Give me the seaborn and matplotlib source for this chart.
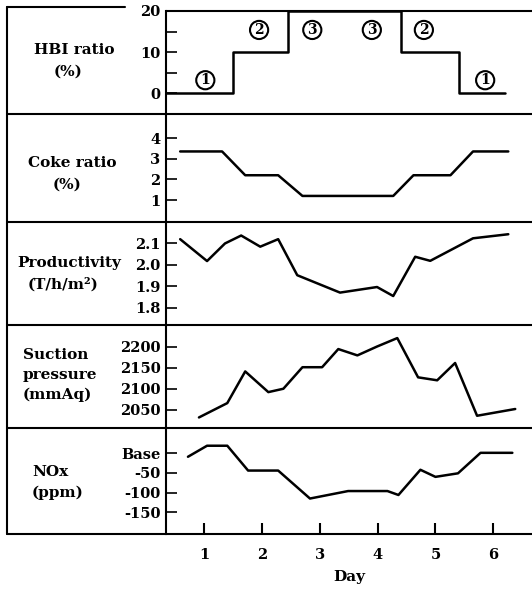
import numpy as np
import pandas as pd
import matplotlib
matplotlib.use("Agg")
import matplotlib.pyplot as plt
from matplotlib.lines import Line2D
import seaborn as sns

# Data (x in days)
hbi_day = [0.34, 1.5, 2.45, 4.4, 5.4, 6.2]
hbi_val = [0, 10, 20, 10, 0, 0]
hbi_mark_day = [1.02, 1.95, 2.87, 3.9, 4.8, 5.86]
hbi_mark_val = [3.2, 15.4, 15.4, 15.4, 15.4, 3.2]
hbi_mark_txt = ["1", "2", "3", "3", "2", "1"]

coke_day = [0.585, 1.31, 1.71, 2.28, 2.70, 4.27, 4.62, 5.26, 5.65, 6.26]
coke_val = [3.35, 3.35, 2.2, 2.2, 1.2, 1.2, 2.2, 2.2, 3.35, 3.35]

prod_day = [0.585, 1.05, 1.36, 1.64, 1.97, 2.28, 2.61, 3.35, 3.99, 4.27,
            4.65, 4.91, 5.65, 6.26]
prod_val = [2.12, 2.018, 2.10, 2.137, 2.085, 2.12, 1.952, 1.871, 1.897,
            1.855, 2.038, 2.019, 2.124, 2.143]

suc_day = [0.91, 1.40, 1.71, 2.11, 2.37, 2.70, 3.04, 3.32, 3.65, 3.99, 4.34,
           4.70, 5.03, 5.34, 5.72, 6.38]
suc_val = [2032, 2066, 2141, 2092, 2100, 2151, 2151, 2194, 2179, 2200, 2220,
           2127, 2120, 2161, 2036, 2052]

nox_day = [0.72, 1.05, 1.40, 1.76, 2.28, 2.83, 3.49, 4.17, 4.36, 4.74, 5.00,
           5.39, 5.78, 6.33]
nox_val = [-9, 19, 19, -44, -44, -115, -96, -96, -106, -42, -60, -51, 1, 1]

day_ticks = [1, 2, 3, 4, 5, 6]

W, H = 532, 590


def fx(px):
    return px / W


def fy(py):
    return 1 - py / H


sns.set_theme(style="white")
plt.rcParams["font.family"] = ["DejaVu Serif", "DejaVu Sans"]
plt.rcParams["font.weight"] = "bold"
plt.rcParams["text.color"] = "black"
FS = 10.5

fig = plt.figure(figsize=(W / 100, H / 100), dpi=100)

bounds = [(11, 114), (114, 222), (222, 325), (325, 428), (428, 534)]
axes = []
for top, bot in bounds:
    ax = fig.add_axes([fx(166), fy(bot), fx(532) - fx(166), (bot - top) / H])
    ax.set_facecolor("none")
    for s in ["top", "right", "bottom"]:
        ax.spines[s].set_visible(False)
    ax.spines["left"].set_color("black")
    ax.spines["left"].set_linewidth(1.5)
    ax.set_xlim(0.34, 6.67)
    ax.tick_params(axis="y", direction="in", length=8, width=1.2,
                   labelsize=FS, pad=4, left=True, colors="black")
    ax.tick_params(axis="x", bottom=False, labelbottom=False)
    axes.append(ax)

lw = 1.8
ax1, ax2, ax3, ax4, ax5 = axes

# HBI ratio
sns.lineplot(x=hbi_day, y=hbi_val, ax=ax1, color="black", lw=lw,
             drawstyle="steps-post", estimator=None, sort=False)
ax1.set_ylim(-5, 20)
ax1.set_yticks([0, 5, 10, 15, 20])
ax1.set_yticklabels(["0", "", "10", "", "20"])
for d, v, t in zip(hbi_mark_day, hbi_mark_val, hbi_mark_txt):
    ax1.text(d, v, t, ha="center", va="center", fontsize=10, fontweight="bold",
             color="black",
             bbox=dict(boxstyle="circle,pad=0.15", fc="white", ec="black", lw=1.5))

# Coke ratio
sns.lineplot(x=coke_day, y=coke_val, ax=ax2, color="black", lw=lw,
             estimator=None, sort=False)
ax2.set_ylim(-0.06, 5.16)
ax2.set_yticks([1, 2, 3, 4])

# Productivity
sns.lineplot(x=prod_day, y=prod_val, ax=ax3, color="black", lw=lw,
             estimator=None, sort=False)
ax3.set_ylim(1.72, 2.2)
ax3.set_yticks([1.8, 1.9, 2.0, 2.1])
ax3.set_yticklabels(["1.8", "1.9", "2.0", "2.1"])

# Suction pressure
sns.lineplot(x=suc_day, y=suc_val, ax=ax4, color="black", lw=lw,
             estimator=None, sort=False)
ax4.set_ylim(2007, 2251)
ax4.set_yticks([2050, 2100, 2150, 2200])

# NOx
sns.lineplot(x=nox_day, y=nox_val, ax=ax5, color="black", lw=lw,
             estimator=None, sort=False)
ax5.set_ylim(-205, 64)
ax5.set_yticks([0, -50, -100, -150])
ax5.set_yticklabels(["Base", "-50", "-100", "-150"])
ax5.set_xticks(day_ticks)
ax5.tick_params(axis="x", bottom=True, labelbottom=True, direction="in",
                length=8, width=1.5, labelsize=FS, pad=10, colors="black")

for ax in axes:
    ax.set_ylabel("")
    ax.set_xlabel("")

# Frame lines across the whole figure
def hline(py, x0, x1):
    fig.add_artist(Line2D([fx(x0), fx(x1)], [fy(py), fy(py)], color="black",
                          lw=1.5, transform=fig.transFigure))

hline(7, 7, 125)
hline(11, 166, 532)
for py in [114, 222, 325, 428, 534]:
    hline(py, 7, 532)
fig.add_artist(Line2D([fx(7), fx(7)], [fy(7), fy(534)], color="black", lw=1.5,
                      transform=fig.transFigure))

# Left-hand row labels and x title
kw = dict(fontsize=FS + 0.5, fontweight="bold", color="black",
          transform=fig.transFigure, va="center")
fig.text(fx(74), fy(50), "HBI ratio", ha="center", **kw)
fig.text(fx(68), fy(72), "(%)", ha="center", **kw)
fig.text(fx(72), fy(163), "Coke ratio", ha="center", **kw)
fig.text(fx(67), fy(185), "(%)", ha="center", **kw)
fig.text(fx(69), fy(263), "Productivity", ha="center", **kw)
fig.text(fx(63), fy(284), "(T/h/m²)", ha="center", **kw)
fig.text(fx(23), fy(355), "Suction", ha="left", **kw)
fig.text(fx(23), fy(375), "pressure", ha="left", **kw)
fig.text(fx(23), fy(395), "(mmAq)", ha="left", **kw)
fig.text(fx(32), fy(472), "NOx", ha="left", **kw)
fig.text(fx(32), fy(493), "(ppm)", ha="left", **kw)
fig.text(fx(349), fy(577), "Day", ha="center", **kw)

fig.savefig("out.png", dpi=100, facecolor="white")
